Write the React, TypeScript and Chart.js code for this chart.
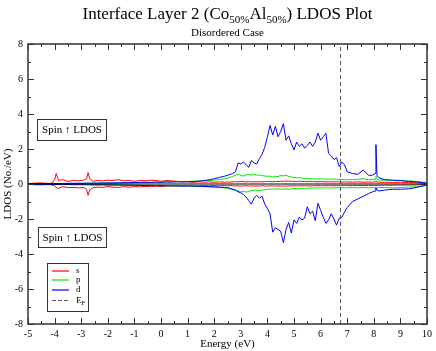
import { useEffect, useRef } from 'react';
import { Chart, registerables } from 'chart.js';

Chart.register(...registerables);

// ---------- data ----------
const energy = [
  -5, -4.75, -4.5, -4.25, -4.1, -4, -3.94, -3.85, -3.7, -3.5,
  -3.3, -3.1, -2.9, -2.8, -2.74, -2.68, -2.55, -2.4, -2.2, -2,
  -1.8, -1.6, -1.4, -1.2, -1, -0.8, -0.6, -0.4, -0.2, 0,
  0.2, 0.4, 0.6, 0.8, 1, 1.2, 1.4, 1.6, 1.8, 2,
  2.2, 2.4,
  2.5, 2.6, 2.7, 2.8, 2.9, 3.0, 3.1, 3.2, 3.3, 3.4,
  3.5, 3.6, 3.7, 3.8, 3.9, 4.0, 4.1, 4.2, 4.3, 4.4,
  4.5, 4.6, 4.7, 4.8, 4.9, 5.0, 5.1, 5.2, 5.3, 5.4,
  5.5, 5.6, 5.7, 5.8, 5.9, 6.0, 6.1, 6.2, 6.3, 6.4,
  6.5, 6.6, 6.7, 6.8, 6.9, 7.0,
  7.2, 7.4, 7.6, 7.8, 7.95, 8.05, 8.08, 8.12, 8.2, 8.4, 8.7, 9, 9.3, 9.6, 10,
];

const sUp = [
  0.02, 0.05, 0.06, 0.03, 0.05, 0.25, 0.6, 0.2, 0.25, 0.15,
  0.2, 0.18, 0.22, 0.3, 0.65, 0.3, 0.15, 0.2, 0.18, 0.22,
  0.2, 0.25, 0.18, 0.2, 0.15, 0.2, 0.18, 0.22, 0.2, 0.15,
  0.2, 0.18, 0.15, 0.12, 0.12, 0.1, 0.12, 0.1, 0.12, 0.1,
  0.12, 0.1,
  0.12, 0.1, 0.12, 0.14, 0.12, 0.15, 0.13, 0.12, 0.14, 0.12,
  0.13, 0.12, 0.14, 0.12, 0.13, 0.15, 0.14, 0.13, 0.15, 0.14,
  0.16, 0.15, 0.17, 0.15, 0.16, 0.15, 0.14, 0.16, 0.15, 0.14,
  0.13, 0.15, 0.14, 0.13, 0.12, 0.14, 0.13, 0.12, 0.13, 0.12,
  0.12, 0.13, 0.12, 0.11, 0.12, 0.11,
  0.11, 0.12, 0.1, 0.11, 0.1, 0.12, 0.15, 0.11, 0.1, 0.1, 0.09, 0.1, 0.08, 0.07, 0.04,
];

const sDown = [
  -0.02, -0.04, -0.05, -0.03, -0.05, -0.1, -0.2, -0.25, -0.15, -0.2,
  -0.2, -0.22, -0.2, -0.3, -0.65, -0.35, -0.2, -0.18, -0.2, -0.15,
  -0.18, -0.2, -0.15, -0.18, -0.15, -0.16, -0.14, -0.15, -0.12, -0.14,
  -0.12, -0.11, -0.12, -0.1, -0.11, -0.1, -0.1, -0.09, -0.1, -0.09,
  -0.1, -0.09,
  -0.1, -0.09, -0.1, -0.11, -0.1, -0.12, -0.11, -0.1, -0.12, -0.11,
  -0.12, -0.11, -0.12, -0.1, -0.11, -0.12, -0.11, -0.1, -0.12, -0.11,
  -0.12, -0.11, -0.12, -0.11, -0.1, -0.11, -0.1, -0.11, -0.1, -0.1,
  -0.1, -0.11, -0.1, -0.1, -0.09, -0.1, -0.1, -0.09, -0.1, -0.09,
  -0.1, -0.09, -0.1, -0.09, -0.08, -0.09,
  -0.09, -0.08, -0.09, -0.08, -0.08, -0.08, -0.1, -0.08, -0.08, -0.07, -0.07, -0.06, -0.06, -0.05, -0.03,
];

const pUp = [
  0, 0.01, 0.01, 0.01, 0.02, 0.02, 0.02, 0.02, 0.03, 0.03,
  0.03, 0.03, 0.04, 0.04, 0.04, 0.04, 0.04, 0.05, 0.05, 0.05,
  0.05, 0.06, 0.06, 0.07, 0.07, 0.08, 0.08, 0.09, 0.1, 0.1,
  0.11, 0.12, 0.13, 0.14, 0.15, 0.16, 0.17, 0.19, 0.2, 0.22,
  0.26, 0.3,
  0.33, 0.38, 0.44, 0.5, 0.55, 0.5, 0.45, 0.52, 0.55, 0.5,
  0.55, 0.5, 0.52, 0.48, 0.46, 0.44, 0.45, 0.4, 0.44, 0.42,
  0.5, 0.46, 0.5, 0.44, 0.4, 0.37, 0.35, 0.36, 0.33, 0.32,
  0.34, 0.3, 0.3, 0.28, 0.3, 0.28, 0.3, 0.27, 0.29, 0.27,
  0.29, 0.27, 0.25, 0.27, 0.25, 0.24,
  0.25, 0.27, 0.3, 0.25, 0.24, 0.28, 0.45, 0.28, 0.22, 0.22, 0.2, 0.2, 0.18, 0.15, 0.08,
];

const pDown = [
  0, -0.01, -0.01, -0.01, -0.02, -0.02, -0.02, -0.02, -0.03, -0.03,
  -0.03, -0.03, -0.04, -0.04, -0.04, -0.04, -0.04, -0.05, -0.05, -0.05,
  -0.05, -0.06, -0.06, -0.06, -0.07, -0.07, -0.08, -0.08, -0.09, -0.09,
  -0.1, -0.1, -0.11, -0.12, -0.12, -0.13, -0.14, -0.15, -0.16, -0.18,
  -0.2, -0.22,
  -0.25, -0.28, -0.31, -0.35, -0.4, -0.45, -0.42, -0.46, -0.43, -0.38,
  -0.35, -0.36, -0.38, -0.35, -0.32, -0.3, -0.3, -0.27, -0.3, -0.28,
  -0.3, -0.3, -0.28, -0.3, -0.28, -0.27, -0.25, -0.26, -0.24, -0.25,
  -0.24, -0.23, -0.24, -0.22, -0.23, -0.22, -0.23, -0.22, -0.23, -0.22,
  -0.22, -0.21, -0.22, -0.2, -0.22, -0.21,
  -0.2, -0.22, -0.2, -0.22, -0.2, -0.22, -0.3, -0.22, -0.2, -0.2, -0.22, -0.2, -0.18, -0.15, -0.08,
];

const dUp = [
  0, 0.01, 0.02, 0.02, 0.03, 0.03, 0.03, 0.03, 0.03, 0.04,
  0.04, 0.04, 0.04, 0.05, 0.05, 0.05, 0.05, 0.05, 0.06, 0.06,
  0.06, 0.07, 0.07, 0.08, 0.08, 0.09, 0.1, 0.09, 0.11, 0.1,
  0.12, 0.11, 0.13, 0.12, 0.14, 0.13, 0.16, 0.2, 0.24, 0.3,
  0.38, 0.45,
  0.5, 0.55, 0.6, 0.7, 1.2, 1.15, 1.25, 1.1, 0.95, 1.35,
  1.2, 1.15, 1.45, 1.7, 2.1, 2.7, 3.35, 2.8, 3.3, 2.7,
  3.0, 3.45, 2.5, 2.75, 2.3, 1.95, 2.4, 2.15, 2.3, 2.05,
  2.2, 2.4, 2.15, 2.4, 2.9, 2.5, 2.7, 2.9, 1.75, 1.6,
  1.4, 1.5, 1.0, 1.25, 1.1, 0.7,
  0.6, 0.55, 0.8, 0.5, 0.5, 0.6, 2.25, 0.5, 0.35, 0.25, 0.22, 0.2, 0.15, 0.12, 0.04,
];

const dDown = [
  0, -0.01, -0.02, -0.02, -0.02, -0.03, -0.03, -0.03, -0.03, -0.03,
  -0.04, -0.04, -0.04, -0.04, -0.04, -0.05, -0.05, -0.05, -0.05, -0.06,
  -0.06, -0.06, -0.07, -0.07, -0.08, -0.08, -0.09, -0.08, -0.1, -0.09,
  -0.1, -0.11, -0.1, -0.12, -0.11, -0.12, -0.13, -0.14, -0.15, -0.16,
  -0.18, -0.2,
  -0.2, -0.25, -0.3, -0.35, -0.45, -0.5, -0.6, -0.75, -0.95, -1.15,
  -0.8, -0.65, -0.8, -0.7, -1.15, -1.4, -1.7, -2.75, -2.5, -2.6,
  -2.7, -3.35, -2.6, -2.2, -2.8, -2.05, -2.25, -1.9, -2.05, -1.95,
  -1.3, -1.7, -1.55, -2.1, -1.1, -1.5, -1.9, -2.25, -2.05, -1.7,
  -2.0, -2.35, -1.95, -1.9, -1.6, -1.35,
  -1.0, -0.85, -0.7, -0.55, -0.45, -0.4, -0.2, -0.35, -0.4, -0.35, -0.3, -0.3, -0.28, -0.2, -0.05,
];

const fermiEnergy = 6.75;
const xRange = [-5, 10];
const yRange = [-8, 8];

const titleParts = [
  { text: 'Interface Layer 2 (Co', sub: false },
  { text: '50%', sub: true },
  { text: 'Al', sub: false },
  { text: '50%', sub: true },
  { text: ') LDOS Plot', sub: false },
];
const subtitleText = 'Disordered Case';
const xTitle = 'Energy (eV)';
const yTitle = 'LDOS (No./eV)';
const boxLabel = 'Spin \u2191 LDOS';
const legendLabels = ['s', 'p', 'd', 'E'];

const SERIF = '"Liberation Serif", "Times New Roman", "DejaVu Serif", serif';
const RED = '#ff0000';
const GREEN = '#00e600';
const BLUE = '#0000ff';
const GREY = '#555555';

const decorPlugin = {
  id: 'decor',
  afterDatasetsDraw(chart: any) {
    const { ctx, chartArea: a, scales } = chart;
    const x = scales.x;
    const y = scales.y;
    ctx.save();
    // frame
    ctx.strokeStyle = '#333';
    ctx.lineWidth = 1.5;
    ctx.strokeRect(a.left, a.top, a.right - a.left, a.bottom - a.top);
    // inward ticks
    ctx.lineWidth = 1;
    ctx.beginPath();
    for (let v = xRange[0]; v <= xRange[1] + 1e-9; v += 0.5) {
      const px = Math.round(x.getPixelForValue(v)) + 0.5;
      const L = Math.abs(v - Math.round(v)) < 1e-9 ? 6 : 3;
      ctx.moveTo(px, a.bottom); ctx.lineTo(px, a.bottom - L);
      ctx.moveTo(px, a.top); ctx.lineTo(px, a.top + L);
    }
    for (let v = yRange[0]; v <= yRange[1] + 1e-9; v += 1) {
      const py = Math.round(y.getPixelForValue(v)) + 0.5;
      const L = v % 2 === 0 ? 6 : 3;
      ctx.moveTo(a.left, py); ctx.lineTo(a.left + L, py);
      ctx.moveTo(a.right, py); ctx.lineTo(a.right - L, py);
    }
    ctx.stroke();

    // annotation boxes
    ctx.font = `11px ${SERIF}`;
    ctx.fillStyle = '#000';
    ctx.textBaseline = 'middle';
    ctx.textAlign = 'center';
    const boxes = [
      { x: a.left + 9, y: a.top + 75, w: 69, h: 21 },
      { x: a.left + 10, y: a.top + 183, w: 68, h: 20 },
    ];
    ctx.strokeStyle = '#333';
    for (const b of boxes) {
      ctx.fillStyle = '#fff';
      ctx.fillRect(b.x, b.y, b.w, b.h);
      ctx.strokeRect(b.x + 0.5, b.y + 0.5, b.w, b.h);
      ctx.fillStyle = '#000';
      ctx.fillText(boxLabel, b.x + b.w / 2 + 0.5, b.y + b.h / 2 + 1);
    }

    // legend
    const lx = a.left + 19, ly = a.top + 219, lw = 41, lh = 48;
    ctx.fillStyle = '#fff';
    ctx.fillRect(lx, ly, lw, lh);
    ctx.strokeStyle = '#333';
    ctx.strokeRect(lx + 0.5, ly + 0.5, lw, lh);
    const rows = [ly + 8, ly + 17, ly + 27, ly + 37.5];
    const colors = [RED, GREEN, BLUE, GREY];
    ctx.font = `9px ${SERIF}`;
    ctx.textAlign = 'left';
    for (let i = 0; i < 4; i++) {
      ctx.strokeStyle = colors[i];
      ctx.lineWidth = 1.2;
      ctx.setLineDash(i === 3 ? [4, 2] : []);
      ctx.beginPath();
      ctx.moveTo(lx + 5, rows[i]);
      ctx.lineTo(lx + 22, rows[i]);
      ctx.stroke();
      ctx.setLineDash([]);
      ctx.fillStyle = '#000';
      ctx.fillText(legendLabels[i], lx + 29, rows[i]);
      if (i === 3) {
        const w = ctx.measureText(legendLabels[i]).width;
        ctx.font = `7px ${SERIF}`;
        ctx.fillText('F', lx + 29 + w, rows[i] + 3);
        ctx.font = `9px ${SERIF}`;
      }
    }
    ctx.restore();
  },
  afterDraw(chart: any) {
    const { ctx, chartArea: a } = chart;
    ctx.save();
    const cx = (a.left + a.right) / 2;
    const mainFont = `17px ${SERIF}`;
    const subFont = `11px ${SERIF}`;
    let total = 0;
    for (const p of titleParts) {
      ctx.font = p.sub ? subFont : mainFont;
      total += ctx.measureText(p.text).width;
    }
    let xPos = cx - total / 2;
    ctx.fillStyle = '#000';
    ctx.textBaseline = 'alphabetic';
    ctx.textAlign = 'left';
    for (const p of titleParts) {
      ctx.font = p.sub ? subFont : mainFont;
      ctx.fillText(p.text, xPos, p.sub ? 23 : 18.5);
      xPos += ctx.measureText(p.text).width;
    }
    ctx.font = `11px ${SERIF}`;
    ctx.textAlign = 'center';
    ctx.fillText(subtitleText, cx, 36);
    ctx.restore();
  },
};

export default function App() {
  const ref = useRef<HTMLCanvasElement>(null);
  useEffect(() => {
    document.body.style.margin = '0';
    const pts = (ys: number[]) => energy.map((e, i) => ({ x: e, y: ys[i] }));
    const line = (label: string, ys: number[], color: string, order: number) => ({
      label,
      data: pts(ys),
      borderColor: color,
      borderWidth: 1,
      pointRadius: 0,
      tension: 0,
      fill: false,
      order,
    });
    const tickFont = { family: SERIF, size: 10 };
    const titleFont = { family: SERIF, size: 11 };
    const chart = new Chart(ref.current as HTMLCanvasElement, {
      type: 'line',
      data: {
        datasets: [
          {
            label: 'zero',
            data: [{ x: xRange[0], y: 0 }, { x: xRange[1], y: 0 }],
            borderColor: '#000',
            borderWidth: 1,
            pointRadius: 0,
            order: 0,
          },
          {
            label: 'EF',
            data: [{ x: fermiEnergy, y: yRange[0] }, { x: fermiEnergy, y: yRange[1] }],
            borderColor: GREY,
            borderDash: [4, 3],
            borderWidth: 1,
            pointRadius: 0,
            order: 1,
          },
          line('d up', dUp, BLUE, 2),
          line('d down', dDown, BLUE, 2),
          line('p up', pUp, GREEN, 3),
          line('p down', pDown, GREEN, 3),
          line('s up', sUp, RED, 4),
          line('s down', sDown, RED, 4),
        ] as any,
      },
      options: {
        responsive: false,
        animation: false,
        layout: { padding: { top: 44, right: 6, left: 0, bottom: 0 } },
        plugins: { legend: { display: false }, tooltip: { enabled: false }, title: { display: false } },
        scales: {
          x: {
            type: 'linear',
            min: xRange[0],
            max: xRange[1],
            grid: { display: false, drawTicks: false },
            border: { display: false },
            ticks: { stepSize: 1, color: '#000', font: tickFont, padding: 4, maxRotation: 0, autoSkip: false },
            title: { display: true, text: xTitle, color: '#000', font: titleFont, padding: { top: 0, bottom: 0 } },
            afterFit: (s: any) => { s.height = 27; },
          },
          y: {
            type: 'linear',
            min: yRange[0],
            max: yRange[1],
            grid: { display: false, drawTicks: false },
            border: { display: false },
            ticks: { stepSize: 2, color: '#000', font: tickFont, padding: 5 },
            title: { display: true, text: yTitle, color: '#000', font: titleFont, padding: { top: 1.5, bottom: 0 } },
            afterFit: (s: any) => { s.width = 28; },
          },
        },
      } as any,
      plugins: [decorPlugin],
    });
    return () => chart.destroy();
  }, []);
  return (
    <div style={{ position: 'absolute', left: 0, top: 0, width: 436, height: 351, background: '#fff' }}>
      <canvas ref={ref} width={436} height={351} style={{ display: 'block' }} />
    </div>
  );
}
